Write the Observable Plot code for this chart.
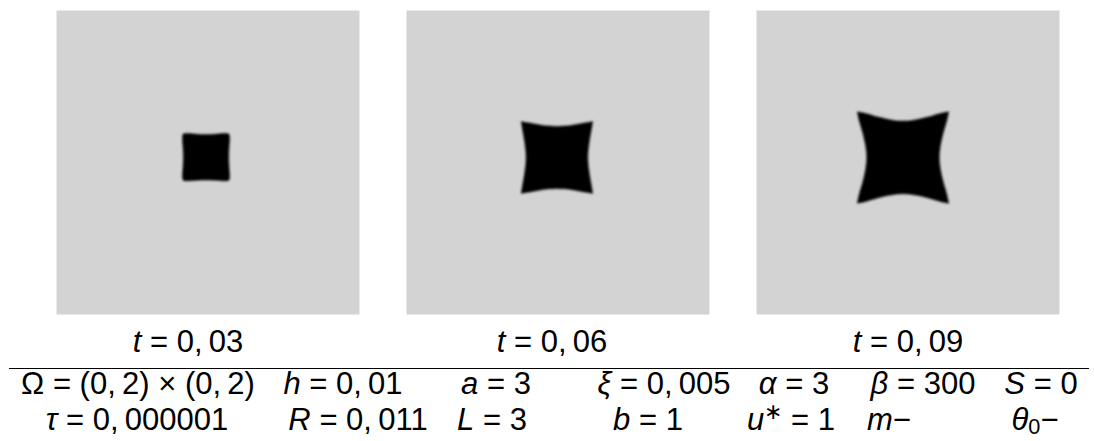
<!DOCTYPE html>
<html><head><meta charset="utf-8">
<script src="https://cdn.jsdelivr.net/npm/d3@7"></script>
<script src="https://cdn.jsdelivr.net/npm/@observablehq/plot@0.6"></script>
<style>
html,body{margin:0;padding:0;background:#fff;}
#chart{width:1094px;}
svg{display:block;}
</style></head><body><div id="chart"></div>
<script>
// ---- data ----
const times = ["0,03", "0,06", "0,09"];
const centerX = [0.987, 0.993, 0.967];
const centerY = [1.035, 1.033, 1.033];

// outlines (offsets from centre, domain units), clockwise from top-left
const outline003 = [
  [-0.125, 0.157], [-0.06, 0.153], [0, 0.151], [0.06, 0.153], [0.125, 0.157],
  [0.152, 0.152],
  [0.157, 0.125], [0.153, 0.06], [0.151, 0], [0.153, -0.06], [0.157, -0.125],
  [0.152, -0.152],
  [0.125, -0.157], [0.06, -0.153], [0, -0.151], [-0.06, -0.153], [-0.125, -0.157],
  [-0.152, -0.152],
  [-0.157, -0.125], [-0.153, -0.06], [-0.151, 0], [-0.153, 0.06], [-0.157, 0.125],
  [-0.152, 0.152]
];
const outline006 = [
  [-0.222, 0.235], [-0.18, 0.228], [-0.11, 0.216], [-0.05, 0.208], [0, 0.205], [0.05, 0.208], [0.11, 0.216], [0.18, 0.228], [0.222, 0.235],
  [0.237, 0.237],
  [0.235, 0.222], [0.228, 0.18], [0.216, 0.11], [0.208, 0.05], [0.205, 0], [0.208, -0.05], [0.216, -0.11], [0.228, -0.18], [0.235, -0.222],
  [0.237, -0.237],
  [0.222, -0.235], [0.18, -0.228], [0.11, -0.216], [0.05, -0.208], [0, -0.205], [-0.05, -0.208], [-0.11, -0.216], [-0.18, -0.228], [-0.222, -0.235],
  [-0.237, -0.237],
  [-0.235, -0.222], [-0.228, -0.18], [-0.216, -0.11], [-0.208, -0.05], [-0.205, 0], [-0.208, 0.05], [-0.216, 0.11], [-0.228, 0.18], [-0.235, 0.222],
  [-0.237, 0.237]
];
const outline009 = [
  [-0.285, 0.300], [-0.24, 0.290], [-0.15, 0.264], [-0.07, 0.247], [0, 0.241], [0.07, 0.247], [0.15, 0.264], [0.24, 0.290], [0.285, 0.300],
  [0.302, 0.302],
  [0.300, 0.285], [0.290, 0.24], [0.264, 0.15], [0.247, 0.07], [0.241, 0], [0.247, -0.07], [0.264, -0.15], [0.290, -0.24], [0.300, -0.285],
  [0.302, -0.302],
  [0.285, -0.300], [0.24, -0.290], [0.15, -0.264], [0.07, -0.247], [0, -0.241], [-0.07, -0.247], [-0.15, -0.264], [-0.24, -0.290], [-0.285, -0.300],
  [-0.302, -0.302],
  [-0.300, -0.285], [-0.290, -0.24], [-0.264, -0.15], [-0.247, -0.07], [-0.241, 0], [-0.247, 0.07], [-0.264, 0.15], [-0.290, 0.24], [-0.300, 0.285],
  [-0.302, 0.302]
];
const outlines = [outline003, outline006, outline009];

const row1 = ["Ω = (0,2) × (0,2)", "h = 0,01", "a = 3", "ξ = 0,005", "α = 3", "β = 300", "S = 0"];
const row2 = ["τ = 0,000001", "R = 0,011", "L = 3", "b = 1", "u* = 1", "m−", "θ0−"];

// ---- layout (not data) ----
const labelShift = [-20, -6, 0];
const row1X = [138, 343, 496, 664, 794, 923, 1041];
const row2X = [137, 358, 492, 648, 791, 889, 1035];
const FONT = "'Liberation Sans', Arial, sans-serif";
const FS = 31;

const shapeData = times.flatMap((t, i) =>
  outlines[i].map(([dx, dy]) => ({t, x: centerX[i] + dx, y: centerY[i] + dy})));

const plot = Plot.plot({
  width: 1094, height: 358,
  marginLeft: 55, marginRight: 35, marginTop: 10, marginBottom: 44,
  x: {domain: [0, 2], axis: null},
  y: {domain: [0, 2], axis: null},
  fx: {domain: times, paddingInner: 0.1355, paddingOuter: 0, label: null},
  style: {background: "white"},
  marks: [
    Plot.frame({fill: "#d3d3d3", stroke: null}),
    Plot.line(shapeData, {x: "x", y: "y", fx: "t", fill: "black", stroke: "none",
      curve: "catmull-rom-closed"}),
    Plot.axisFx({anchor: "bottom", tickSize: 0, tickPadding: 15, label: null,
      tickFormat: d => `t = ${d}`, fontSize: FS, fontFamily: FONT, fill: "black"})
  ]
});

plot.querySelectorAll('g[aria-label="line"]').forEach(g => g.style.filter = "blur(1px)");

// math-like typesetting: italic variables, sub/superscripts, thin space after commas
function typeset(textNode, str) {
  const sel = d3.select(textNode);
  sel.text(null);
  const chars = Array.from(str);
  let shift = 0;
  for (let i = 0; i < chars.length; i++) {
    const c = chars[i];
    if (c === "*") {
      sel.append("tspan").attr("dy", -11).attr("font-size", FS * 0.7).text("∗");
      shift = 11;
    } else if (/[0-9]/.test(c) && i > 0 && chars[i - 1] === "θ") {
      sel.append("tspan").attr("dy", 4).attr("font-size", FS * 0.7).text(c);
      shift = -4;
    } else {
      const ts = sel.append("tspan");
      if (shift) { ts.attr("dy", shift); shift = 0; }
      if (/[A-Za-zα-ωξτβθ]/.test(c)) ts.attr("font-style", "italic");
      ts.text(c === "," ? ",\u2009" : c);
    }
  }
}

plot.querySelectorAll('g[aria-label="fx-axis tick label"] text').forEach((t, i) => {
  typeset(t, t.textContent);
  const tr = t.getAttribute("transform") || "";
  t.setAttribute("transform", `${tr} translate(${labelShift[i] || 0},0)`);
});

document.getElementById("chart").append(plot);

// parameter table below the panels
const tbl = d3.create("svg").attr("width", 1094).attr("height", 83)
  .attr("font-family", FONT).attr("font-size", FS);
tbl.append("line").attr("x1", 9).attr("x2", 1089).attr("y1", 10.5).attr("y2", 10.5)
  .attr("stroke", "black").attr("stroke-width", 1.2);
[[row1, row1X, 36], [row2, row2X, 72]].forEach(([row, xs, y]) => {
  row.forEach((s, i) => {
    const t = tbl.append("text").attr("x", xs[i]).attr("y", y).attr("text-anchor", "middle");
    typeset(t.node(), s);
  });
});
document.getElementById("chart").append(tbl.node());
</script></body></html>
